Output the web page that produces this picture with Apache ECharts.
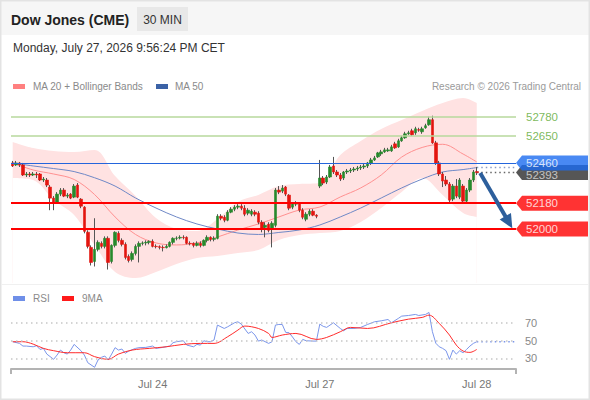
<!DOCTYPE html>
<html>
<head>
<meta charset="utf-8">
<title>Dow Jones (CME) - 30 MIN</title>
<script src="https://cdn.jsdelivr.net/npm/echarts@6/dist/echarts.min.js"></script>
<style>
html, body { margin: 0; padding: 0; background: #fff; }
#chart { width: 590px; height: 400px; }
</style>
</head>
<body>
<div id="chart"></div>
<script>
// Dow Jones (CME) 30 min chart: candles + Bollinger/MA, levels, RSI panel

// x slots: 137 bars plus room on the right for the projection
const SLOTS = 148;
const xLabelIndex = [41, 90, 136];
const xLabelText = ['Jul 24', 'Jul 27', 'Jul 28'];

// candles
const opens = [
  52460, 52446, 52460, 52446, 52376, 52383, 52376, 52383, 52383, 52341,
  52341, 52292, 52215, 52187, 52243, 52271, 52229, 52243, 52222, 52306,
  52208, 52152, 51977, 51872, 51774, 51858, 51900, 51879, 51935, 51774,
  51886, 51970, 51921, 51893, 51809, 51788, 51830, 51879, 51900, 51903,
  51907, 51914, 51879, 51877, 51872, 51870, 51879, 51907, 51935, 51937,
  51942, 51942, 51900, 51900, 51886, 51900, 51886, 51921, 51942, 51928,
  51935, 52089, 52082, 52061, 52117, 52138, 52152, 52159, 52145, 52110,
  52103, 52117, 52110, 52047, 52012, 52033, 51998, 52026, 52271, 52264,
  52292, 52236, 52152, 52173, 52173, 52131, 52068, 52103, 52124, 52096,
  52299, 52355, 52327, 52362, 52439, 52397, 52376, 52355, 52397, 52404,
  52411, 52418, 52425, 52432, 52439, 52460, 52481, 52502, 52523, 52537,
  52544, 52544, 52593, 52572, 52614, 52635, 52663, 52684, 52670, 52691,
  52677, 52705, 52726, 52761, 52600, 52460, 52383, 52341, 52313, 52208,
  52299, 52222, 52299, 52194, 52271, 52341, 52400
];
const closes = [
  52439, 52460, 52446, 52376, 52383, 52376, 52383, 52376, 52341, 52348,
  52306, 52215, 52187, 52243, 52271, 52229, 52236, 52215, 52299, 52222,
  52159, 51984, 51879, 51767, 51858, 51907, 51879, 51935, 51767, 51886,
  51977, 51921, 51893, 51802, 51781, 51830, 51879, 51900, 51903, 51907,
  51914, 51879, 51877, 51872, 51870, 51879, 51907, 51935, 51937, 51942,
  51940, 51900, 51898, 51886, 51900, 51886, 51921, 51942, 51928, 51935,
  52089, 52075, 52061, 52117, 52138, 52152, 52159, 52145, 52103, 52131,
  52124, 52103, 52047, 52005, 52026, 51991, 52040, 52271, 52257, 52285,
  52243, 52145, 52173, 52180, 52131, 52082, 52103, 52124, 52096, 52089,
  52355, 52320, 52362, 52432, 52397, 52376, 52348, 52397, 52404, 52411,
  52418, 52425, 52432, 52439, 52460, 52481, 52495, 52530, 52537, 52551,
  52551, 52572, 52565, 52614, 52635, 52663, 52670, 52656, 52698, 52689,
  52698, 52719, 52761, 52600, 52460, 52383, 52334, 52313, 52201, 52299,
  52229, 52341, 52194, 52271, 52341, 52397, 52393
];
const lows = [
  52432, 52439, 52432, 52369, 52362, 52362, 52369, 52355, 52334, 52327,
  52292, 52131, 52131, 52180, 52229, 52222, 52215, 52208, 52215, 52215,
  52145, 51970, 51865, 51746, 51739, 51844, 51865, 51865, 51718, 51760,
  51872, 51907, 51879, 51788, 51767, 51774, 51816, 51767, 51886, 51886,
  51893, 51872, 51865, 51858, 51844, 51865, 51872, 51893, 51921, 51928,
  51928, 51893, 51886, 51872, 51879, 51872, 51879, 51907, 51914, 51914,
  51928, 52061, 52047, 52054, 52110, 52124, 52138, 52131, 52089, 52096,
  52089, 52089, 52033, 51977, 51942, 51977, 51872, 52012, 52243, 52250,
  52229, 52131, 52138, 52159, 52117, 52068, 52054, 52089, 52089, 52075,
  52285, 52306, 52313, 52355, 52383, 52362, 52334, 52341, 52383, 52390,
  52397, 52404, 52411, 52418, 52425, 52446, 52474, 52495, 52509, 52530,
  52537, 52537, 52558, 52565, 52607, 52628, 52656, 52649, 52656, 52677,
  52663, 52698, 52719, 52593, 52446, 52369, 52292, 52299, 52187, 52194,
  52215, 52208, 52180, 52180, 52257, 52327, 52376
];
const highs = [
  52474, 52474, 52467, 52460, 52397, 52397, 52397, 52397, 52390, 52362,
  52355, 52306, 52229, 52257, 52285, 52285, 52250, 52250, 52313, 52320,
  52215, 52159, 51991, 51886, 52075, 51921, 51914, 51949, 51949, 51893,
  51984, 51984, 51935, 51907, 51823, 51844, 51893, 51914, 51914, 51921,
  51921, 51928, 51893, 51886, 51886, 51893, 51914, 51942, 51949, 51956,
  51956, 51949, 51914, 51907, 51914, 51914, 51928, 51956, 51949, 51949,
  52103, 52103, 52096, 52131, 52152, 52166, 52173, 52173, 52166, 52145,
  52138, 52131, 52124, 52061, 52047, 52047, 52054, 52285, 52299, 52306,
  52299, 52243, 52187, 52194, 52187, 52145, 52117, 52138, 52138, 52103,
  52481, 52369, 52376, 52446, 52502, 52411, 52390, 52404, 52418, 52425,
  52432, 52439, 52446, 52453, 52467, 52495, 52509, 52537, 52551, 52565,
  52565, 52586, 52607, 52628, 52649, 52677, 52684, 52698, 52712, 52705,
  52712, 52733, 52782, 52789, 52614, 52474, 52397, 52369, 52327, 52313,
  52348, 52355, 52313, 52285, 52355, 52411, 52432
];

// indicator lines, read at every 6th bar
const bandIdx = [0, 6, 12, 18, 24, 30, 36, 42, 48, 54, 60, 66, 72, 78, 84, 90, 96, 102, 108, 114, 120, 126, 132, 136];
const ma20 = [52460, 52411, 52383, 52345, 52240, 52084, 51962, 51903, 51889, 51903, 51944, 51993, 52035, 52084, 52132, 52153, 52223, 52286, 52376, 52501, 52568, 52590, 52522, 52467];
const ma50 = [52460, 52439, 52421, 52400, 52357, 52299, 52216, 52146, 52084, 52035, 52000, 51972, 51962, 51976, 51993, 52028, 52084, 52146, 52216, 52286, 52348, 52397, 52414, 52428];
const bbUpper = [52606, 52564, 52543, 52536, 52550, 52369, 52230, 52077, 52000, 51986, 52070, 52188, 52237, 52299, 52313, 52320, 52515, 52613, 52696, 52759, 52822, 52877, 52912, 52877];
const bbLower = [52355, 52341, 52202, 52098, 51889, 51701, 51659, 51701, 51756, 51798, 51812, 51833, 51854, 51923, 51958, 51972, 51986, 52049, 52146, 52258, 52355, 52237, 52111, 52084];

// key levels
const levelValues = [52780, 52650, 52460, 52180, 52000];
const levelKinds = ['resist', 'resist', 'pivot', 'support', 'support'];
const lastPrice = 52393;
// projection arrow: start, and centre of its head
const arrowFrom = [137.0, 52390];
const arrowTo = [145.4, 52047];
const ARROW_ROTATE = -150; // head turned to point down the shaft

// RSI panel
const rsiIdx = [0, 2, 3, 4, 6, 7, 8, 9, 10, 12, 13, 14, 15, 16, 17, 18, 20, 21, 22, 24, 25, 26, 27, 28, 29, 30, 31, 32, 33, 34,
  36, 37, 39, 41, 42, 44, 46, 47, 48, 50, 51, 53, 54, 55, 56, 57, 58, 59, 60, 62, 63, 65, 66, 67, 69, 70, 71, 72, 73,
  75, 76, 77, 78, 79, 80, 81, 82, 83, 84, 85, 86, 88, 89, 90, 91, 92, 94, 96, 97, 98, 100, 102, 104, 106, 108, 110, 111,
  113, 114, 116, 118, 119, 121, 122, 123, 124, 125, 126, 127, 128, 129, 130, 131, 132, 133, 134, 135, 136];
const rsiVal = [48.7, 46.8, 43.8, 43.8, 43.0, 44.2, 40.0, 41.2, 34.8, 28.9, 33.7, 39.3, 36.3, 34.8, 39.3, 45.7, 38.6, 33.7, 25.1,
  19.9, 28.1, 31.1, 32.6, 28.1, 34.8, 42.0, 39.3, 40.5, 35.6, 38.2, 41.2, 42.0, 42.3, 43.8, 41.2, 42.3, 43.8, 47.6, 48.7,
  49.8, 44.9, 43.0, 45.7, 44.9, 49.8, 48.7, 48.7, 50.6, 67.4, 63.6, 65.5, 70.0, 71.1, 68.5, 58.0, 59.9, 56.2, 49.4, 50.6,
  46.8, 48.7, 67.4, 68.1, 68.1, 59.2, 58.8, 54.0, 48.7, 45.7, 51.3, 49.8, 49.4, 49.4, 68.5, 66.0, 64.8, 70.0, 63.6, 61.0,
  63.6, 63.6, 64.8, 68.1, 71.1, 72.2, 73.7, 70.0, 74.9, 77.5, 78.2, 79.4, 78.2, 79.4, 81.6, 60.0, 47.0, 43.0, 41.2, 38.6,
  28.9, 39.3, 34.8, 38.5, 36.3, 40.0, 43.8, 46.8, 48.7];
const rsiMaIdx = [0, 3, 6, 9, 12, 16, 21, 24, 28, 31, 35, 40, 45, 50, 55, 59, 63, 66, 68, 72, 75, 76, 79, 83, 89, 92, 96, 99,
  104, 111, 116, 120, 122, 125, 128, 130, 132, 134, 136];
const rsiMaVal = [48.7, 48.7, 46.0, 41.2, 38.6, 36.3, 36.3, 31.9, 28.9, 34.8, 39.3, 41.2, 43.0, 45.7, 46.8, 46.8, 54.3, 61.8,
  66.3, 63.6, 58.0, 53.5, 56.2, 58.0, 51.3, 53.5, 59.9, 64.8, 63.6, 70.0, 74.1, 76.0, 78.6, 69.3, 56.2, 44.9, 38.2, 36.7, 40.0];
const rsiGridValues = [70, 50, 30];

const FONT = '"Liberation Sans", Arial, sans-serif';
const UP = '#268a2c';
const DOWN = '#e3150f';
const WICK = '#555';
const BAND = '#ffe2e2';
const ARROW = '#2d5f9c';

const kindStyle = {
    resist: { line: '#b7d99c', width: 1.5, box: 'rgba(0,0,0,0)', text: '#5aa830' },
    pivot: { line: '#2465dc', width: 1, box: '#1b6cf0', text: '#fff' },
    support: { line: '#ff0000', width: 2, box: '#ff0000', text: '#fff' }
};

document.addEventListener('DOMContentLoaded', function() {
    const chart = echarts.init(document.getElementById('chart'), null, { renderer: 'svg' });

    const categories = [];
    for (let i = 0; i < SLOTS; i++) {
        const k = xLabelIndex.indexOf(i);
        categories.push(k >= 0 ? xLabelText[k] : '');
    }

    const pairs = (idx, vals) => idx.map((x, i) => [x, vals[i]]);
    const lastIdx = closes.length - 1;
    const xEnd = SLOTS - 0.5;

    // full candle (wick layer) and body-only layer
    const wickData = opens.map((o, i) => [o, closes[i], lows[i], highs[i]]);
    const bodyData = opens.map((o, i) => [o, closes[i], Math.min(o, closes[i]), Math.max(o, closes[i])]);

    // price tags on the right (last price first so the 52460 tag sits on top of it)
    const tagItems = [{
        value: [xEnd, lastPrice],
        itemStyle: { color: '#2c2c2c' },
        label: { color: '#e0e0e0', offset: [5, 2] }
    }];
    levelValues.forEach((v, i) => {
        const st = kindStyle[levelKinds[i]];
        tagItems.push({ value: [xEnd, v], itemStyle: { color: st.box }, label: { color: st.text } });
    });

    const legendText = (x, y, text) => ({
        type: 'text', x: x, y: y, silent: true,
        style: { text: text, font: '10px ' + FONT, fill: '#8a8a8a', textVerticalAlign: 'middle', verticalAlign: 'middle' }
    });
    const swatch = (x, y, color) => ({
        type: 'rect', silent: true, shape: { x: x, y: y, width: 12, height: 5 }, style: { fill: color }
    });

    const option = {
        animation: false,
        backgroundColor: '#fff',
        graphic: {
            elements: [
                { type: 'rect', silent: true, z: -10, shape: { x: 1, y: 1, width: 588, height: 34 }, style: { fill: '#f6f6f6' } },
                { type: 'rect', silent: true, shape: { x: 0.75, y: 0.75, width: 588.5, height: 398.5 }, style: { fill: 'none', stroke: '#e3e3e3', lineWidth: 1.5 } },
                { type: 'line', silent: true, shape: { x1: 1, y1: 284.5, x2: 589, y2: 284.5 }, style: { stroke: '#f0f0f0', lineWidth: 1 } },
                {
                    type: 'text', x: 11, y: 19.5, silent: true,
                    style: { text: 'Dow Jones (CME)', font: 'bold 14px ' + FONT, fill: '#222', textVerticalAlign: 'middle', verticalAlign: 'middle' }
                },
                { type: 'rect', silent: true, shape: { x: 137, y: 7, width: 51, height: 24 }, style: { fill: '#e8e8e8' } },
                {
                    type: 'text', x: 162.5, y: 19.5, silent: true,
                    style: { text: '30 MIN', font: '12px ' + FONT, fill: '#333', textAlign: 'center', align: 'center', textVerticalAlign: 'middle', verticalAlign: 'middle' }
                },
                {
                    type: 'text', x: 13, y: 48, silent: true,
                    style: { text: 'Monday, July 27, 2026 9:56:24 PM CET', font: '12px ' + FONT, fill: '#333', textVerticalAlign: 'middle', verticalAlign: 'middle' }
                },
                swatch(13, 84, '#ff8080'),
                legendText(33, 86.5, 'MA 20 + Bollinger Bands'),
                swatch(156, 84, '#3b62a6'),
                legendText(175, 86.5, 'MA 50'),
                {
                    type: 'text', x: 581, y: 86.5, silent: true,
                    style: { text: 'Research \u00a9 2026 Trading Central', font: '10px ' + FONT, fill: '#9a9a9a', textAlign: 'right', align: 'right', textVerticalAlign: 'middle', verticalAlign: 'middle' }
                },
                swatch(13, 296, '#6f8fe8'),
                legendText(33, 298.5, 'RSI'),
                swatch(62, 296, '#ff1a1a'),
                legendText(82, 298.5, '9MA')
            ]
        },
        grid: [
            { left: 11, right: 74, top: 90, height: 193 },
            { left: 11, right: 74, top: 305, height: 64 }
        ],
        xAxis: [
            { type: 'category', gridIndex: 0, data: categories, boundaryGap: true, show: false },
            { type: 'value', gridIndex: 0, min: -0.5, max: xEnd, show: false },
            {
                type: 'category', gridIndex: 1, data: categories, boundaryGap: true,
                axisLine: { lineStyle: { color: '#b3b3b3', width: 2 } },
                axisTick: { show: true, length: 5, interval: (i) => i === 0, lineStyle: { color: '#b3b3b3', width: 2 } },
                axisLabel: {
                    interval: (i, v) => v !== '',
                    color: '#777', fontSize: 11, fontFamily: FONT, margin: 9
                },
                splitLine: { show: false }
            },
            { type: 'value', gridIndex: 1, min: -0.5, max: xEnd, show: false }
        ],
        yAxis: [
            { type: 'value', gridIndex: 0, min: 51624, max: 52968, show: false, splitLine: { show: false } },
            { type: 'value', gridIndex: 1, min: 18, max: 90, show: false, splitLine: { show: false } }
        ],
        series: [
            // band: pink down from the upper band, then white up to the lower band
            {
                name: 'BB upper', type: 'line', xAxisIndex: 1, yAxisIndex: 0, z: 0,
                data: pairs(bandIdx, bbUpper), smooth: 0.35, symbol: 'none', silent: true,
                lineStyle: { opacity: 0 },
                areaStyle: { color: BAND, opacity: 1, origin: 'start' }
            },
            {
                name: 'BB lower', type: 'line', xAxisIndex: 1, yAxisIndex: 0, z: 0,
                data: pairs(bandIdx, bbLower), smooth: 0.35, symbol: 'none', silent: true,
                lineStyle: { opacity: 0 },
                areaStyle: { color: '#fff', opacity: 1, origin: 'start' }
            },
            {
                name: 'MA 20', type: 'line', xAxisIndex: 1, yAxisIndex: 0, z: 1,
                data: pairs(bandIdx, ma20), smooth: 0.35, symbol: 'none', silent: true,
                lineStyle: { color: '#ff9090', width: 1 }
            },
            {
                name: 'MA 50', type: 'line', xAxisIndex: 1, yAxisIndex: 0, z: 1,
                data: pairs(bandIdx, ma50), smooth: 0.35, symbol: 'none', silent: true,
                lineStyle: { color: '#6f88c6', width: 1 }
            },
            {
                name: 'MA 50 ext', type: 'line', xAxisIndex: 1, yAxisIndex: 0, z: 1,
                data: [[lastIdx, ma50[ma50.length - 1]], [xEnd, ma50[ma50.length - 1]]], symbol: 'none', silent: true,
                lineStyle: { color: '#8a9bc4', width: 1.5, type: [1.5, 3] }
            },
            {
                name: 'wicks', type: 'candlestick', xAxisIndex: 0, yAxisIndex: 0, z: 3,
                data: wickData, barWidth: 1, silent: true,
                itemStyle: { color: WICK, color0: WICK, borderColor: WICK, borderColor0: WICK, borderWidth: 1 }
            },
            {
                name: 'Dow Jones', type: 'candlestick', xAxisIndex: 0, yAxisIndex: 0, z: 4,
                data: bodyData, barWidth: 3, silent: true,
                itemStyle: { color: UP, color0: DOWN, borderColor: UP, borderColor0: DOWN, borderWidth: 0.6 },
                markLine: {
                    silent: true, symbol: 'none', label: { show: false },
                    data: levelValues.map((v, i) => ({
                        yAxis: v,
                        lineStyle: { color: kindStyle[levelKinds[i]].line, width: kindStyle[levelKinds[i]].width, type: 'solid' }
                    }))
                }
            },
            {
                name: 'last', type: 'line', xAxisIndex: 1, yAxisIndex: 0, z: 4,
                data: [[lastIdx, lastPrice], [xEnd, lastPrice]], symbol: 'none', silent: true,
                lineStyle: { color: '#666', width: 1.5, type: [1.5, 3] }
            },
            {
                name: 'projection', type: 'line', xAxisIndex: 1, yAxisIndex: 0, clip: false, z: 5,
                data: [arrowFrom, arrowTo], symbol: 'none', silent: true,
                lineStyle: { color: ARROW, width: 4, cap: 'butt' }
            },
            {
                name: 'projection head', type: 'scatter', xAxisIndex: 1, yAxisIndex: 0, clip: false, z: 5, silent: true,
                data: [arrowTo], symbol: 'triangle', symbolSize: [13, 14], symbolRotate: ARROW_ROTATE,
                itemStyle: { color: ARROW, opacity: 1 }
            },
            {
                name: 'tags', type: 'scatter', xAxisIndex: 1, yAxisIndex: 0, clip: false, silent: true, z: 6,
                symbol: 'path://M0,7.5L6,0L72,0L72,15L6,15Z', symbolSize: [72, 15], symbolOffset: [36, 0],
                data: tagItems,
                label: {
                    show: true, position: 'insideLeft', offset: [5, 0],
                    fontSize: 11.5, fontFamily: FONT,
                    formatter: (p) => String(p.value[1])
                }
            },
            {
                name: 'RSI', type: 'line', xAxisIndex: 3, yAxisIndex: 1,
                data: pairs(rsiIdx, rsiVal), symbol: 'none', silent: true,
                lineStyle: { color: '#7b96ea', width: 1 },
                markLine: {
                    silent: true, symbol: 'none',
                    lineStyle: { color: '#c6c6c6', width: 1.5, type: [1.5, 3.5] },
                    label: { position: 'end', distance: 9, color: '#888', fontSize: 11, fontFamily: FONT, formatter: (p) => String(p.value) },
                    data: rsiGridValues.map((v) => ({ yAxis: v }))
                }
            },
            {
                name: 'RSI ext', type: 'line', xAxisIndex: 3, yAxisIndex: 1,
                data: [[lastIdx, rsiVal[rsiVal.length - 1]], [xEnd, rsiVal[rsiVal.length - 1]]], symbol: 'none', silent: true,
                lineStyle: { color: '#7b96ea', width: 1.5, type: [1.5, 3] }
            },
            {
                name: '9MA', type: 'line', xAxisIndex: 3, yAxisIndex: 1,
                data: pairs(rsiMaIdx, rsiMaVal), smooth: 0.35, symbol: 'none', silent: true,
                lineStyle: { color: '#ff2b2b', width: 1 }
            }
        ]
    };

    chart.setOption(option);

    window.addEventListener('resize', function() {
        chart.resize();
    });
});
</script>
</body>
</html>
